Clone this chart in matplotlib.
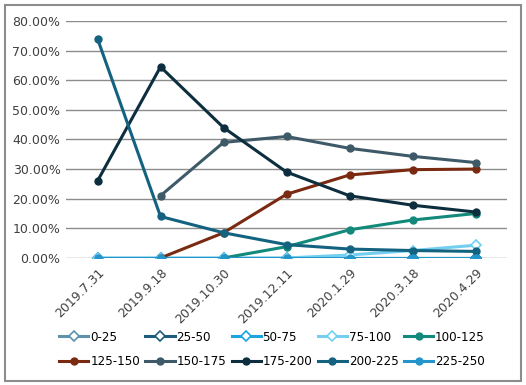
# Share of price bands over time, line chart
from matplotlib import pyplot as plt
from matplotlib.patches import Rectangle
from matplotlib.ticker import PercentFormatter

dates = ['2019.7.31', '2019.9.18', '2019.10.30', '2019.12.11',
         '2020.1.29', '2020.3.18', '2020.4.29']

bands = ['0-25', '25-50', '50-75', '75-100', '100-125',
         '125-150', '150-175', '175-200', '200-225', '225-250']

# values in percent, None = no point
s_0_25 = [0, 0, 0, 0, 0, 0, 0]
s_25_50 = [0, 0, 0, 0, 0, 0, 0]
s_50_75 = [0, 0, 0, 0, 0, 0, 0]
s_75_100 = [0, 0, 0, 0, 1.0, 2.5, 4.3]
s_100_125 = [None, None, 0, 3.8, 9.5, 12.8, 15.0]
s_125_150 = [None, 0, 8.5, 21.5, 28.0, 29.8, 30.0]
s_150_175 = [None, 21.0, 39.0, 41.0, 37.0, 34.3, 32.2]
s_175_200 = [26.0, 64.5, 44.0, 29.0, 21.0, 17.8, 15.5]
s_200_225 = [74.0, 14.0, 8.5, 4.5, 3.0, 2.5, 2.2]
s_225_250 = [0, 0, 0, 0, 0, 0, 0]

series = [s_0_25, s_25_50, s_50_75, s_75_100, s_100_125,
          s_125_150, s_150_175, s_175_200, s_200_225, s_225_250]
colors = ['#5f93ab', '#1b5d7a', '#1ba4de', '#72cff2', '#12897a',
          '#7b2a12', '#3e5a69', '#0c2e3e', '#13627f', '#2495cb']
hollow = [True, True, True, True, False, False, False, False, False, False]

fig = plt.figure(figsize=(5.26, 3.85), dpi=100)
ax = fig.add_axes([0.1255, 0.330, 0.8385, 0.6156])

xs = list(range(len(dates)))
handles = []
for vals, col, hol, name in zip(series, colors, hollow, bands):
    px = [x for x, v in zip(xs, vals) if v is not None]
    py = [v for v in vals if v is not None]
    if hol:
        h, = ax.plot(px, py, color=col, lw=2.2, marker='D', ms=5,
                     mfc='white', mec=col, mew=1.2, label=name)
    else:
        h, = ax.plot(px, py, color=col, lw=2.2, marker='o', ms=5,
                     mfc=col, mec=col, label=name)
    handles.append(h)

ax.set_xlim(-0.5, len(dates) - 0.5)
ax.set_ylim(0, 80)
ax.set_yticks(range(0, 81, 10))
ax.yaxis.set_major_formatter(PercentFormatter(decimals=2))
ax.set_xticks(xs)
ax.set_xticklabels(dates, rotation=45, ha='right', rotation_mode='anchor')
ax.grid(axis='y', color='#8c8c8c', lw=1)
ax.set_axisbelow(True)
for sp in ax.spines.values():
    sp.set_visible(False)
ax.tick_params(length=0, labelsize=9, colors='#404040', pad=4)
ax.tick_params(axis='x', pad=6)

order = [0, 5, 1, 6, 2, 7, 3, 8, 4, 9]
fig.legend([handles[i] for i in order], [bands[i] for i in order],
           ncol=5, loc='lower center', bbox_to_anchor=(0.517, 0.015),
           frameon=False, fontsize=8.6, handlelength=2.45, handletextpad=0.15,
           columnspacing=0.45, labelspacing=1.0)

fig.patches.append(Rectangle((0.009, 0.01), 0.982, 0.977, transform=fig.transFigure,
                             fill=False, ec='#8c8c8c', lw=1.5))

fig.savefig('out.png')
